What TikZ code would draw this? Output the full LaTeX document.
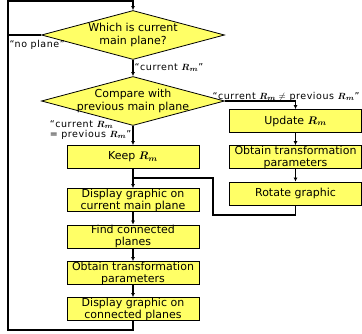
\documentclass[tikz,border=0pt]{standalone}
\usepackage{fontspec}
\setsansfont{DejaVu Sans}
\newfontfamily\lblfont[LetterSpace=6]{DejaVu Sans}
\usepackage{bm}
\usepackage{xcolor}
\usepackage{tikz}
\usetikzlibrary{shapes.geometric}
\usetikzlibrary{arrows.meta}
\usetikzlibrary{positioning}
\definecolor{boxyellow}{RGB}{255,255,102}

\begin{document}
\begin{tikzpicture}[x=1pt, y=-1pt, font=\sffamily]
        \tikzset{
            every node/.style={
                align=center,
            },
            stepbox/.style={draw, line width=.8pt, fill=boxyellow, minimum width=132pt,
                minimum height=23pt, inner sep=0pt, font=\sffamily\fontsize{11}{12}\selectfont},
            decision/.style={draw, line width=.8pt, fill=boxyellow, diamond,
                minimum width=183pt, minimum height=49pt, inner sep=0pt},
            dtext/.style={font=\sffamily\fontsize{11}{12.5}\selectfont, align=center},
            lbl/.style={font=\lblfont\fontsize{9.5}{10}\selectfont, inner sep=1pt},
            flow/.style={line width=1.4pt, -{Latex[length=4pt, width=4pt]}},
            plain/.style={line width=1.4pt}
        }
        \useasboundingbox (0,0) rectangle (362,334);

        % left column
        \node[decision, label={[dtext]center:Which is current\\main plane?}] (which) at (133,35) {};
        \node[decision, label={[dtext]center:Compare with\\previous main plane}] (compare) at (133,101) {};
        \node[stepbox] (keep) at (133,157) {Keep $\bm{R_m}$};
        \node[stepbox] (showmain) at (133,200) {Display graphic on\\current main plane};
        \node[stepbox] (findcon) at (133,236.5) {Find connected\\planes};
        \node[stepbox] (paramsl) at (133,273) {Obtain transformation\\parameters};
        \node[stepbox] (showcon) at (133,309) {Display graphic on\\connected planes};

        % right column
        \node[stepbox] (update) at (295.5,121) {Update $\bm{R_m}$};
        \node[stepbox] (paramsr) at (295.5,157) {Obtain transformation\\parameters};
        \node[stepbox] (rotate) at (295.5,193.5) {Rotate graphic};

        \coordinate (loopbl) at (8,330);
        \coordinate (looptl) at (8,1);
        \coordinate (bend) at (213,215);
        \coordinate (merge) at (133,178);

        \draw[flow] (showcon.south) |- (loopbl) -- (looptl) -| (which.north);
        \draw[plain] (which.west) -- (which.west -| looptl)
            node[lbl, below right, pos=1, yshift=-4pt]{“no plane”};
        \draw[flow] (which) -- (compare)
            node[lbl, right, midway]{“current $\bm{R_m}$”};
        \draw[flow] (compare.east) -| (update.north)
            node[lbl, above right, pos=0, xshift=-13pt, yshift=-1pt, inner sep=0pt]{“current $\bm{R_m}\neq$ previous $\bm{R_m}$”};
        \draw[flow] (compare) -- (keep)
            node[lbl, left, pos=.2, align=left]{“current $\bm{R_m}$\\= previous $\bm{R_m}$”};
        \draw[flow] (keep) -- (showmain);
        \draw[plain] (rotate.south) |- (bend) |- (merge);
        \draw[flow] (showmain) -- (findcon);
        \draw[flow] (findcon) -- (paramsl);
        \draw[flow] (paramsl) -- (showcon);
        \draw[flow] (update) -- (paramsr);
        \draw[flow] (paramsr) -- (rotate);
    \end{tikzpicture}
\end{document}
